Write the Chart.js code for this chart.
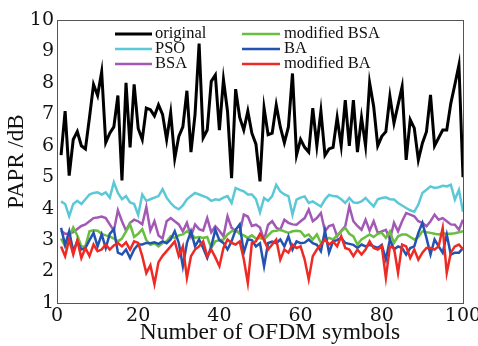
<!DOCTYPE html>
<html lang="en">

<head>
    <meta charset="UTF-8">
    <title>PAPR</title>
    <script src="https://cdn.jsdelivr.net/npm/chart.js"></script>
    <style>
        html, body { margin: 0; padding: 0; background: #fff; }
        #box { width: 478px; height: 346px; }
    </style>
</head>

<body>
    <div id="box">
        <canvas id="grafico"></canvas>
    </div>
</body>

</html>

<script>

    // eixo x: simbolos OFDM 1..100
    const simbolos = Array.from({ length: 100 }, (_, i) => i + 1);
    const ticksX = [0, 20, 40, 60, 80, 100];
    const ticksY = [1, 2, 3, 4, 5, 6, 7, 8, 9, 10];
    const tituloX = 'Number of OFDM symbols';
    const tituloY = 'PAPR /dB';

    const nomes = ['original', 'PSO', 'BSA', 'modified BSA', 'BA', 'modified BA'];
    const cores = ['#000000', '#5BC8D6', '#A259B5', '#68BE3E', '#2352B0', '#EE2A24'];

    const original = [
        5.7, 7.1, 5.05, 6.2, 6.45, 6.0, 5.9, 6.9, 7.95, 7.6,
        8.35, 6.1, 6.4, 6.6, 7.6, 4.9, 8.0, 5.95, 7.95, 6.55,
        6.2, 7.2, 7.15, 6.95, 7.3, 7.0, 6.2, 7.05, 5.6, 6.3,
        6.6, 7.75, 5.8, 7.0, 9.25, 6.25, 6.5, 8.05, 8.25, 6.5,
        8.1, 7.1, 4.97, 7.8, 6.9, 6.5, 7.1, 6.4, 6.05, 4.87,
        7.2, 6.35, 6.4, 7.3, 6.6, 6.1, 6.6, 8.3, 5.7, 6.2,
        5.95, 5.8, 7.2, 6.0, 7.1, 5.7, 5.9, 5.95, 6.9, 6.0,
        7.45, 6.0, 7.45, 5.8, 6.9, 6.0, 8.0, 7.25, 6.0, 6.3,
        6.45, 7.57, 6.72, 7.3, 7.88, 5.55, 6.83, 6.56, 5.55, 6.08,
        6.45, 7.62, 6.0, 6.25, 6.5, 6.5, 7.35, 7.95, 8.57, 5.0
    ];

    const pso = [
        4.23, 4.15, 3.76, 4.15, 4.25, 4.15, 4.3, 4.45, 4.5, 4.52,
        4.45, 4.52, 4.35, 4.84, 4.5, 4.3, 4.4, 4.2, 4.15, 3.8,
        4.45, 4.25, 4.3, 4.35, 4.4, 4.62, 4.35, 4.18, 4.05, 3.98,
        4.1, 4.3, 4.4, 4.5, 4.45, 4.4, 4.35, 4.25, 4.3, 4.28,
        4.35, 4.4, 4.18, 4.66, 4.6, 4.55, 4.45, 4.45, 4.3, 3.88,
        4.34, 4.25, 4.4, 4.76, 4.55, 4.45, 4.4, 3.81, 4.29, 4.35,
        4.39, 4.18, 4.23, 4.15, 4.07, 4.29, 4.44, 4.4, 4.39, 4.3,
        4.18, 4.34, 4.2, 4.18, 4.23, 4.34, 4.2, 4.07, 4.3, 4.34,
        4.36, 4.3, 4.29, 4.18, 4.1, 4.02, 3.95, 3.9, 4.13, 4.5,
        4.6, 4.71, 4.66, 4.68, 4.73, 4.71, 4.76, 4.29, 4.6, 3.9
    ];

    const bsa = [
        3.3, 3.2, 3.2, 3.25, 3.35, 3.45, 3.5, 3.6, 3.7, 3.72,
        3.75, 3.7, 3.5, 3.3, 3.95, 3.6, 3.3, 3.55, 3.65, 3.6,
        3.5, 4.05, 3.3, 3.6, 3.15, 3.05, 3.6, 3.7, 3.6, 3.5,
        3.28, 3.55, 3.12, 3.5, 3.35, 3.3, 3.7, 3.25, 3.44, 3.3,
        3.12, 3.76, 3.39, 3.3, 3.23, 3.81, 3.75, 3.45, 3.49, 3.4,
        3.0, 3.49, 3.6, 3.4, 3.33, 3.65, 3.55, 3.5, 3.49, 3.6,
        3.7, 3.97, 3.6, 3.7, 3.86, 3.28, 3.45, 3.49, 3.12, 3.3,
        3.44, 4.07, 3.6, 3.45, 3.33, 3.65, 3.3, 3.6, 3.23, 3.28,
        3.33, 3.02, 3.55, 3.28, 3.6, 3.86, 3.81, 3.76, 3.6, 3.55,
        3.44, 3.6, 3.81, 3.65, 3.7, 3.6, 3.5, 3.49, 3.33, 3.65
    ];

    const bsaMod = [
        3.05, 2.8, 3.1, 3.4, 3.15, 2.8, 2.8, 3.28, 3.31, 3.3,
        3.2, 3.15, 3.12, 3.05, 2.96, 3.05, 3.28, 3.5, 3.1, 3.2,
        3.35, 3.0, 2.85, 2.9, 2.8, 2.91, 2.96, 3.12, 3.07, 3.15,
        3.18, 3.28, 3.2, 3.07, 3.1, 3.07, 3.1, 2.75, 2.96, 3.0,
        3.02, 3.18, 3.28, 3.33, 3.2, 3.15, 3.07, 3.15, 3.05, 3.07,
        3.02, 3.15, 3.28, 3.3, 3.33, 3.28, 3.23, 3.28, 3.3, 3.28,
        3.12, 3.18, 3.02, 3.18, 2.91, 3.0, 3.07, 3.02, 3.15, 3.28,
        3.39, 3.2, 3.12, 2.86, 3.02, 3.1, 3.18, 3.1, 3.2, 3.23,
        3.07, 3.28, 2.91, 3.12, 3.18, 3.18, 3.1, 3.02, 3.1, 3.28,
        3.25, 3.23, 3.2, 3.18, 3.22, 3.2, 3.2, 3.22, 3.25, 3.28
    ];

    const ba = [
        3.39, 2.85, 3.28, 2.65, 2.96, 2.7, 2.75, 3.0, 3.23, 2.8,
        3.18, 2.75, 3.2, 3.35, 2.6, 2.54, 2.7, 2.43, 2.7, 2.86,
        2.86, 2.91, 2.9, 2.93, 2.88, 2.96, 2.9, 3.02, 3.28, 2.91,
        2.17, 2.91, 3.28, 2.8, 3.02, 2.75, 2.43, 2.8, 3.33, 3.0,
        2.91, 2.7, 2.96, 3.33, 3.5, 2.6, 3.02, 3.0, 2.8, 2.9,
        2.17, 2.91, 2.95, 2.9, 3.02, 2.8, 3.12, 2.7, 2.96, 2.9,
        2.92, 3.02, 2.9, 2.85, 2.65, 3.3, 2.6, 2.96, 3.0, 3.07,
        2.91, 2.88, 2.85, 2.75, 2.86, 2.8, 2.85, 2.8, 2.75, 2.85,
        2.38, 3.02, 2.7, 2.8, 2.75, 2.54, 2.75, 2.8, 3.23, 3.55,
        3.07, 2.54, 3.02, 2.8, 2.6, 3.18, 2.54, 2.6, 2.6, 2.75
    ];

    const baMod = [
        2.8, 2.49, 3.02, 2.54, 3.0, 2.43, 2.75, 2.49, 2.86, 2.65,
        2.7, 2.86, 2.7, 2.83, 2.91, 2.8, 2.93, 2.7, 2.96, 2.91,
        2.49, 1.95, 2.2, 1.6, 2.3, 2.5, 2.65, 2.8, 2.96, 2.49,
        2.8, 1.8, 2.49, 2.7, 2.8, 2.96, 2.49, 2.7, 2.45, 2.17,
        2.75, 3.02, 2.91, 2.86, 2.96, 2.4, 1.64, 2.91, 2.96, 3.2,
        3.02, 2.7, 2.86, 3.02, 2.38, 2.7, 2.6, 2.86, 2.75, 2.8,
        2.38, 1.75, 2.49, 2.7, 2.86, 3.02, 2.86, 2.96, 2.8, 3.12,
        2.75, 2.7, 2.49, 2.7, 2.54, 2.7, 2.96, 2.75, 2.7, 2.8,
        1.8, 2.8, 2.75, 1.96, 2.86, 2.8, 2.43, 2.7, 2.38, 2.6,
        2.75, 2.75, 2.7, 2.8, 3.39, 1.96, 2.6, 2.8, 2.86, 2.7
    ];

    const series = [original, pso, bsa, bsaMod, ba, baMod];

    // moldura, titulo do eixo x e legenda dentro do grafico
    const moldura = {
        id: 'moldura',
        afterDraw(chart) {
            const { ctx, chartArea } = chart;
            ctx.save();
            ctx.strokeStyle = '#555555';
            ctx.lineWidth = 1;
            ctx.strokeRect(chartArea.left + 0.5, chartArea.top + 0.5,
                chartArea.right - chartArea.left, chartArea.bottom - chartArea.top);

            ctx.fillStyle = '#111111';
            ctx.textAlign = 'center';
            ctx.textBaseline = 'middle';
            ctx.font = '23.5px "Liberation Serif"';
            ctx.fillText(tituloX, 270, 333);

            const colX = [[115, 152, 155], [242, 280, 284]];
            const linY = [34, 49, 64];
            ctx.font = '16.5px "Liberation Serif"';
            ctx.textAlign = 'left';
            nomes.forEach((nome, i) => {
                const c = colX[Math.floor(i / 3)];
                const y = linY[i % 3];
                ctx.strokeStyle = cores[i];
                ctx.lineWidth = i == 0 ? 3 : 2.5;
                ctx.beginPath();
                ctx.moveTo(c[0], y);
                ctx.lineTo(c[1], y);
                ctx.stroke();
                ctx.fillText(nome, c[2], y);
            });
            ctx.restore();
        }
    };

    // tira o espaco extra que o chart.js reserva para os rotulos das pontas
    function semSobra(axis) {
        axis.paddingLeft = 0;
        axis.paddingRight = 0;
        axis.paddingTop = 0;
        axis.paddingBottom = 0;
    }

    const ctx = document.getElementById('grafico').getContext('2d');

    new Chart(ctx, {
        type: 'line',
        data: {
            labels: simbolos,
            datasets: series.map((s, i) => ({
                label: nomes[i],
                data: s.map((v, k) => ({ x: simbolos[k], y: v })),
                borderColor: cores[i],
                backgroundColor: cores[i],
                borderWidth: i == 0 ? 3 : 2.5,
                pointRadius: 0,
                tension: 0,
                order: 5 - i
            }))
        },
        options: {
            responsive: true,
            maintainAspectRatio: false,
            animation: false,
            devicePixelRatio: 1,
            layout: {
                padding: { top: 20, right: 15, left: 0, bottom: 0 }
            },
            plugins: {
                legend: { display: false },
                tooltip: { enabled: false }
            },
            scales: {
                x: {
                    type: 'linear',
                    min: 0,
                    max: 100,
                    afterFit: (axis) => { axis.height = 43; semSobra(axis); },
                    afterBuildTicks: (axis) => { axis.ticks = ticksX.map(v => ({ value: v })); },
                    grid: { display: false, drawTicks: false },
                    border: { display: false },
                    ticks: {
                        padding: 2,
                        color: '#111111',
                        font: { family: 'DejaVu Serif', size: 19 }
                    }
                },
                y: {
                    min: 1,
                    max: 10,
                    afterFit: (axis) => { axis.width = 57; semSobra(axis); },
                    afterBuildTicks: (axis) => { axis.ticks = ticksY.map(v => ({ value: v })); },
                    grid: { display: false, drawTicks: false },
                    border: { display: false },
                    ticks: {
                        padding: 3,
                        color: '#111111',
                        font: { family: 'DejaVu Serif', size: 19 }
                    },
                    title: {
                        display: true,
                        text: tituloY,
                        color: '#111111',
                        padding: { top: 3, bottom: 2 },
                        font: { family: 'Liberation Serif', size: 23 }
                    }
                }
            }
        },
        plugins: [moldura]
    });

</script>
